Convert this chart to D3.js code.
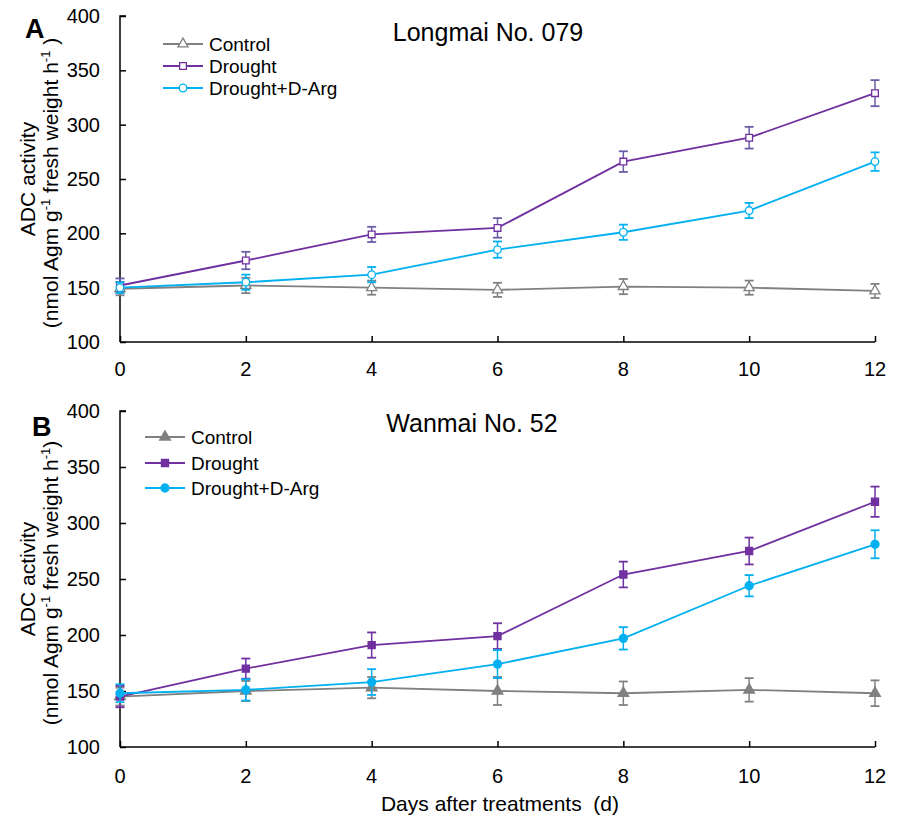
<!DOCTYPE html>
<html>
<head>
<meta charset="utf-8">
<script src="https://cdn.jsdelivr.net/npm/d3@7"></script>
<style>
  body { margin: 0; background: #fff; }
  svg { font-family: "Liberation Sans", Arial, sans-serif; }
</style>
</head>
<body>
<div id="chart"></div>
<script>
const width = 901;
const height = 817;

const days = [0, 2, 4, 6, 8, 10, 12];
const seriesNames = ["Control", "Drought", "Drought+D-Arg"];

// panel A: Longmai No. 079
const controlA = [149, 152, 150, 148, 151, 150, 147];
const controlAErr = [6, 7, 6.5, 6.5, 7, 6.5, 6.5];
const droughtA = [152, 175, 199, 205, 266, 288, 329];
const droughtAErr = [6.5, 8, 7, 9, 9.5, 10, 12];
const dargA = [150, 155, 162, 185, 201, 221, 266];
const dargAErr = [5, 7, 7, 7.5, 7, 7, 8.5];

// panel B: Wanmai No. 52
const controlB = [145, 150, 153, 150, 148, 151, 148];
const controlBErr = [8, 9, 9.5, 12.5, 10.5, 10.5, 11.5];
const droughtB = [145, 170, 191, 199, 254, 275, 319];
const droughtBErr = [9.5, 9, 11.3, 11.5, 11.5, 12, 13.5];
const dargB = [148, 151, 158, 174, 197, 244, 281];
const dargBErr = [8, 9.5, 11.5, 12.5, 10, 9.5, 12.5];

const yTicks = [100, 150, 200, 250, 300, 350, 400];

const colors = { "Control": "#808080", "Drought": "#7030a0", "Drought+D-Arg": "#00b0f0" };
const shapes = { "Control": d3.symbolTriangle, "Drought": d3.symbolSquare, "Drought+D-Arg": d3.symbolCircle };

const panels = [
  {
    letter: "A", title: "Longmai No. 079", top: 16, bottom: 342,
    titleX: 488, titleY: 41, letterX: 25, letterY: 38,
    series: [controlA, droughtA, dargA], errs: [controlAErr, droughtAErr, dargAErr],
    filled: false, errColors: ["#808080", "#6a5ea6", "#00b0f0"],
    legendX: 163, legendY: [44, 66, 88],
    ylabEnd: " )", labelOffset: 27, xlab: false
  },
  {
    letter: "B", title: "Wanmai No. 52", top: 411, bottom: 747,
    titleX: 472, titleY: 432, letterX: 32, letterY: 436,
    series: [controlB, droughtB, dargB], errs: [controlBErr, droughtBErr, dargBErr],
    filled: true, errColors: ["#808080", "#7030a0", "#00b0f0"],
    legendX: 145, legendY: [437, 463, 488],
    ylabEnd: ")", labelOffset: 29, xlab: true
  }
];

const svg = d3.select("#chart").append("svg")
  .attr("width", width)
  .attr("height", height);

const x = d3.scaleLinear().domain([0, 12]).range([120, 875]);

panels.forEach(p => {
  const y = d3.scaleLinear().domain([100, 400]).range([p.bottom, p.top]);
  const g = svg.append("g");

  // axes
  const yAxis = g.append("g")
    .attr("transform", `translate(${x(0)},0)`)
    .call(d3.axisRight(y).tickValues(yTicks).tickSize(6).tickFormat(""));
  yAxis.select(".domain").attr("d", `M6,${p.top}H0V${p.bottom}`);
  g.selectAll(".ytl").data(yTicks).join("text")
    .attr("x", 100).attr("y", d => y(d)).attr("dy", "0.35em")
    .attr("text-anchor", "end").attr("font-size", 20).text(d => d);

  const xAxis = g.append("g")
    .attr("transform", `translate(0,${p.bottom})`)
    .call(d3.axisTop(x).tickValues(days).tickSize(6).tickFormat(""));
  xAxis.select(".domain").attr("d", `M${x(0)},0H${x(12)}`);
  g.selectAll(".xtl").data(days).join("text")
    .attr("x", d => x(d)).attr("y", p.bottom + p.labelOffset).attr("dy", "0.35em")
    .attr("text-anchor", "middle").attr("font-size", 20).text(d => d);
  g.selectAll(".domain, .tick line").attr("stroke", "#000").attr("stroke-width", 1.5);

  // y label
  const cy = (p.top + p.bottom) / 2;
  g.append("text")
    .attr("transform", `translate(35,${cy}) rotate(-90)`)
    .attr("text-anchor", "middle").attr("font-size", 21)
    .text("ADC activity");
  const yl = g.append("text")
    .attr("transform", `translate(58,${cy + 4}) rotate(-90)`)
    .attr("text-anchor", "middle").attr("font-size", 21);
  yl.append("tspan").text("(nmol Agm g");
  yl.append("tspan").attr("dy", -8).attr("font-size", 13).text("-1");
  yl.append("tspan").attr("dy", 8).text(" fresh weight h");
  yl.append("tspan").attr("dy", -8).attr("font-size", 13).text("-1");
  yl.append("tspan").attr("dy", 8).text(p.ylabEnd);

  // title & letter
  g.append("text").attr("x", p.titleX).attr("y", p.titleY)
    .attr("text-anchor", "middle").attr("font-size", 25).text(p.title);
  g.append("text").attr("x", p.letterX).attr("y", p.letterY)
    .attr("font-size", 27).attr("font-weight", "bold").text(p.letter);

  const line = d3.line().x((d, i) => x(days[i])).y(d => y(d));

  seriesNames.forEach((name, si) => {
    const vals = p.series[si];
    const errs = p.errs[si];
    const c = colors[name];
    const ec = p.errColors[si];
    const sg = g.append("g");

    // error bars
    const eb = sg.selectAll("g.eb").data(vals).join("g");
    eb.append("line")
      .attr("x1", (d, i) => x(days[i])).attr("x2", (d, i) => x(days[i]))
      .attr("y1", (d, i) => y(d - errs[i])).attr("y2", (d, i) => y(d + errs[i]))
      .attr("stroke", ec).attr("stroke-width", 1.5);
    [-1, 1].forEach(s => {
      eb.append("line")
        .attr("x1", (d, i) => x(days[i]) - 4.5).attr("x2", (d, i) => x(days[i]) + 4.5)
        .attr("y1", (d, i) => y(d + s * errs[i])).attr("y2", (d, i) => y(d + s * errs[i]))
        .attr("stroke", ec).attr("stroke-width", 1.8);
    });

    sg.append("path").datum(vals)
      .attr("d", line).attr("fill", "none")
      .attr("stroke", c).attr("stroke-width", 1.8);

    const sym = d3.symbol().type(shapes[name]).size(p.filled ? 50 : 45);
    sg.selectAll("path.m").data(vals).join("path")
      .attr("class", "m")
      .attr("d", sym)
      .attr("transform", (d, i) => `translate(${x(days[i])},${y(d)})`)
      .attr("fill", p.filled ? c : "#fff")
      .attr("stroke", c).attr("stroke-width", 1.3);

    // legend
    const ly = p.legendY[si];
    const lg = g.append("g");
    lg.append("line").attr("x1", p.legendX).attr("x2", p.legendX + 40)
      .attr("y1", ly).attr("y2", ly).attr("stroke", c).attr("stroke-width", 1.8);
    lg.append("path").attr("d", sym)
      .attr("transform", `translate(${p.legendX + 20},${ly})`)
      .attr("fill", p.filled ? c : "#fff").attr("stroke", c).attr("stroke-width", 1.3);
    lg.append("text").attr("x", p.legendX + 46).attr("y", ly).attr("dy", "0.35em")
      .attr("font-size", 19).text(name);
  });

  if (p.xlab) {
    g.append("text").attr("x", 500).attr("y", 811)
      .attr("text-anchor", "middle").attr("font-size", 21)
      .text("Days after treatments\u00a0\u00a0(d)");
  }
});
</script>
</body>
</html>
